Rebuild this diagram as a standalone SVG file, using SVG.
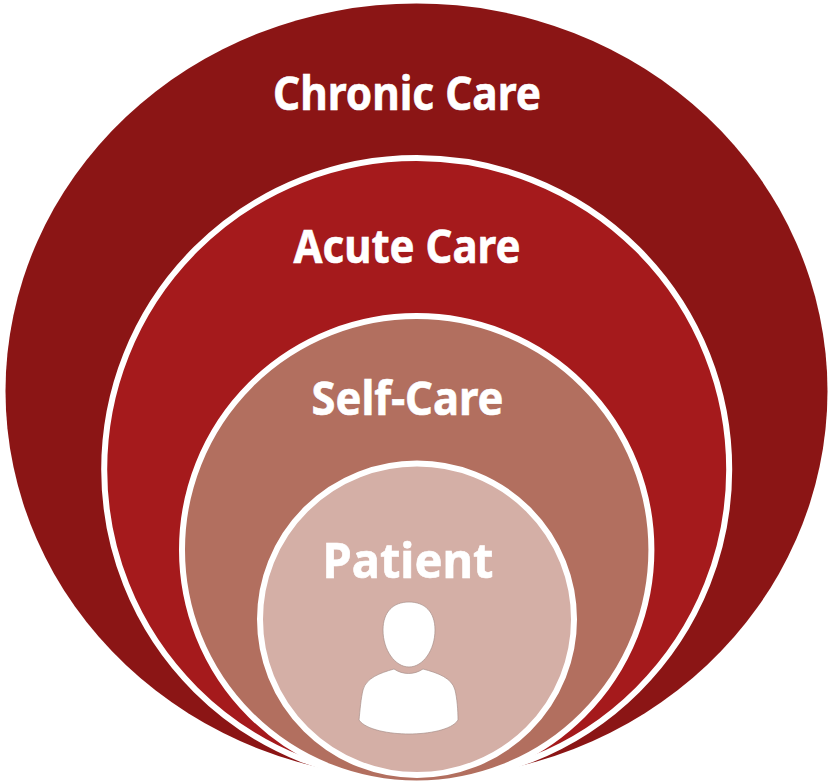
<svg xmlns="http://www.w3.org/2000/svg" width="830" height="783" viewBox="0 0 830 783">
<style>
.lbl{font-family:"Noto Sans","Open Sans","Liberation Sans",sans-serif;font-weight:700;font-size:46px;fill:#fff;stroke:#fff;stroke-width:.6px;text-anchor:middle}
.ring{stroke:#fff;stroke-width:6}
.fig{fill:#fff;stroke:#a88f8a;stroke-width:.7}
</style>
<rect width="830" height="783" fill="#fff"/>
<g id="chronic-care"><ellipse cx="416.500" cy="391" rx="411" ry="387.500" fill="#8b1515"/>
<text class="lbl" x="407" y="110" textLength="268" lengthAdjust="spacingAndGlyphs">Chronic Care</text></g>
<g id="acute-care"><ellipse class="ring" cx="416.700" cy="469.500" rx="312.500" ry="311.500" fill="#a51a1c"/>
<text class="lbl" x="407" y="263" textLength="227" lengthAdjust="spacingAndGlyphs">Acute Care</text></g>
<g id="self-care"><ellipse class="ring" cx="416.700" cy="549.800" rx="234.700" ry="233.700" fill="#b26f5f"/>
<text class="lbl" x="407.500" y="415" textLength="192" lengthAdjust="spacingAndGlyphs">Self-Care</text></g>
<g id="patient"><ellipse class="ring" cx="417" cy="619.300" rx="157" ry="155.700" fill="#d4afa6"/>
<text class="lbl" x="408" y="578" style="font-size:49px" textLength="171" lengthAdjust="spacingAndGlyphs">Patient</text>
<path class="fig" d="M409 602C393 602 383 612 383 630C383 650 395 667 409 667C423 667 435 650 435 630C435 612 425 602 409 602Z"/>
<path class="fig" d="M394 669C380 673 366 678 363 690C361 698 360 710 359 720C366 730 390 734 409 734C428 734 452 730 458 720C458 710 457 698 455 690C452 678 438 673 423 669C414 675 403 675 394 669Z"/></g>
<g id="connectors"/>
</svg>
